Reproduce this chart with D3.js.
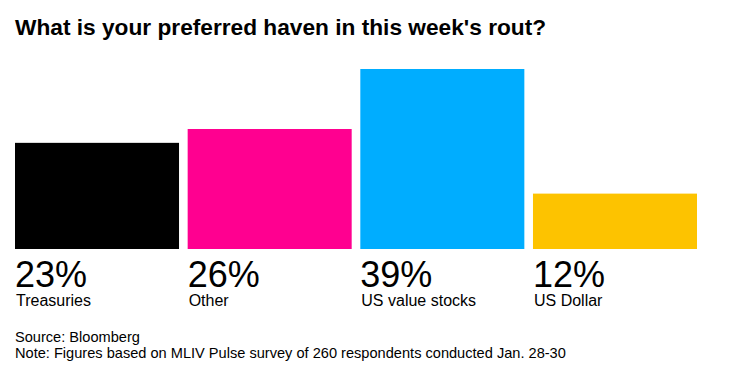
<!DOCTYPE html>
<html>
<head>
<meta charset="utf-8">
<script src="https://cdn.jsdelivr.net/npm/d3@7"></script>
<style>
  body { margin: 0; background: #fff; }
  svg { display: block; font-family: "Liberation Sans", Arial, Helvetica, sans-serif; }
</style>
</head>
<body>
<svg></svg>
<script>
// Data
const categories = ['Treasuries', 'Other', 'US value stocks', 'US Dollar']
const shares = [23, 26, 39, 12]
const colors = ['#000000', '#ff0090', '#00adff', '#fdc300']

const width = 730
const height = 375

const svg = d3.select('svg')
    .attr('width', width)
    .attr('height', height)

// Title
svg.append('text')
    .attr('x', 15)
    .attr('y', 35)
    .attr('font-size', 22.7)
    .attr('font-weight', 'bold')
    .attr('fill', '#000')
    .text("What is your preferred haven in this week's rout?")

// Scales
const x = d3.scaleBand()
    .domain(categories)
    .range([15, 697])
    .paddingInner(0.05)

const y = d3.scaleLinear()
    .domain([0, 39])
    .range([249, 69])

// Bars
svg.selectAll('rect.bar')
    .data(categories)
    .enter()
    .append('rect')
    .attr('class', 'bar')
    .attr('x', d => x(d))
    .attr('y', (d, i) => y(shares[i]))
    .attr('width', x.bandwidth())
    .attr('height', (d, i) => y(0) - y(shares[i]))
    .attr('fill', (d, i) => colors[i])

// Percent labels
svg.selectAll('text.pct')
    .data(categories)
    .enter()
    .append('text')
    .attr('class', 'pct')
    .attr('x', d => x(d))
    .attr('y', 287)
    .attr('font-size', 36)
    .attr('fill', '#000')
    .text((d, i) => shares[i] + '%')

// Category labels
svg.selectAll('text.cat')
    .data(categories)
    .enter()
    .append('text')
    .attr('class', 'cat')
    .attr('x', d => x(d) + 1)
    .attr('y', 306)
    .attr('font-size', 16)
    .attr('fill', '#000')
    .text(d => d)

// Footer
svg.append('text')
    .attr('x', 15)
    .attr('y', 342)
    .attr('font-size', 14.6)
    .attr('fill', '#000')
    .text('Source: Bloomberg')

svg.append('text')
    .attr('x', 15)
    .attr('y', 358)
    .attr('font-size', 14.6)
    .attr('fill', '#000')
    .text('Note: Figures based on MLIV Pulse survey of 260 respondents conducted Jan. 28-30')
</script>
</body>
</html>
